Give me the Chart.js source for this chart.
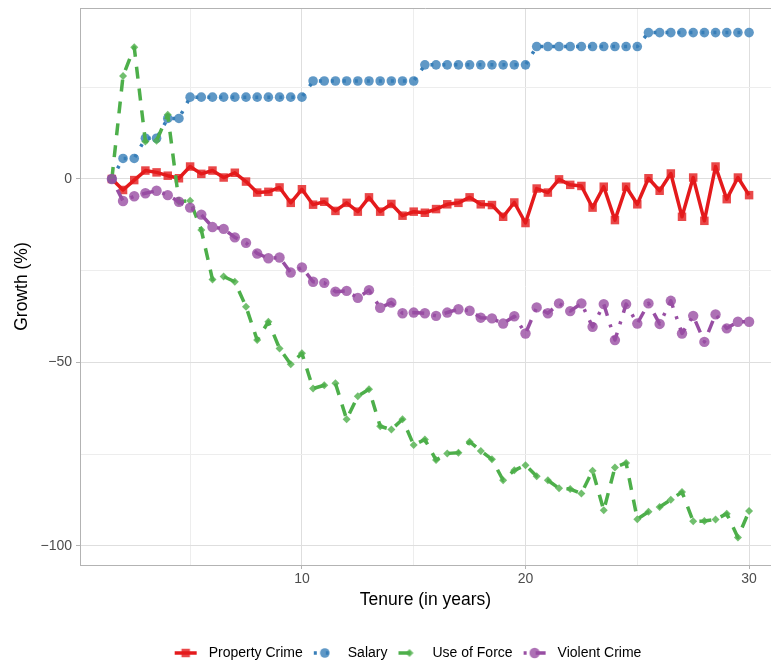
<!DOCTYPE html>
<html>
<head>
<meta charset="utf-8">
<title>Growth by tenure</title>
<script src="https://cdn.jsdelivr.net/npm/chart.js@4.4.1/dist/chart.umd.min.js"></script>
<style>
  html, body { margin: 0; padding: 0; background: #ffffff; }
  #wrap { width: 771px; height: 664px; }
</style>
</head>
<body>
<div id="wrap"><canvas id="tenureChart" width="771" height="664"></canvas></div>
<script>
// Tenure (years) on the x axis
const tenure = [1.5, 2, 2.5, 3, 3.5, 4, 4.5, 5, 5.5, 6, 6.5, 7, 7.5, 8, 8.5, 9, 9.5, 10,
  10.5, 11, 11.5, 12, 12.5, 13, 13.5, 14, 14.5, 15, 15.5, 16, 16.5, 17, 17.5, 18, 18.5, 19, 19.5, 20,
  20.5, 21, 21.5, 22, 22.5, 23, 23.5, 24, 24.5, 25, 25.5, 26, 26.5, 27, 27.5, 28, 28.5, 29, 29.5, 30];

// Growth (%) per series
const propertyCrime = [0, -3.0, -0.3, 2.3, 1.8, 0.9, 0.2, 3.4, 1.4, 2.3, 0.4, 1.7, -0.7, -3.7, -3.5, -2.3, -6.5, -2.8,
  -7.0, -6.2, -8.7, -6.5, -8.9, -5.0, -8.9, -6.8, -10.0, -8.9, -9.2, -8.2, -6.9, -6.5, -5.0, -6.9, -7.1, -10.3, -6.4, -12.0,
  -2.6, -3.7, -0.1, -1.6, -1.9, -7.8, -2.1, -11.2, -2.1, -6.9, 0.2, -3.2, 1.5, -10.3, 0.4, -11.4, 3.4, -5.5, 0.4, -4.4];
const salary = [0, 5.6, 5.6, 11.1, 11.1, 16.5, 16.5, 22.3, 22.3, 22.3, 22.3, 22.3, 22.3, 22.3, 22.3, 22.3, 22.3, 22.3,
  26.7, 26.7, 26.7, 26.7, 26.7, 26.7, 26.7, 26.7, 26.7, 26.7, 31.1, 31.1, 31.1, 31.1, 31.1, 31.1, 31.1, 31.1, 31.1, 31.1,
  36.1, 36.1, 36.1, 36.1, 36.1, 36.1, 36.1, 36.1, 36.1, 36.1, 39.9, 39.9, 39.9, 39.9, 39.9, 39.9, 39.9, 39.9, 39.9, 39.9];
const useOfForce = [0, 28.1, 35.9, 10.2, 10.4, 17.5, -6.2, -5.9, -13.9, -27.4, -26.6, -28.0, -34.8, -43.9, -38.9, -46.2, -50.5, -47.5,
  -57.1, -56.2, -55.7, -65.5, -59.2, -57.3, -67.4, -68.3, -65.5, -72.5, -71.0, -76.6, -74.8, -74.6, -71.6, -74.1, -76.4, -82.1, -79.4, -78.0,
  -81.0, -82.1, -84.3, -84.5, -85.7, -79.5, -90.3, -78.6, -77.4, -92.7, -90.7, -89.4, -87.4, -85.3, -93.3, -93.2, -92.8, -91.2, -97.7, -90.5];
const violentCrime = [0, -6.0, -4.7, -3.9, -3.2, -4.4, -6.2, -7.8, -9.7, -13.1, -13.6, -15.9, -17.4, -20.3, -21.6, -21.4, -25.5, -24.1,
  -28.0, -28.3, -30.7, -30.5, -32.4, -30.3, -35.1, -33.7, -36.6, -36.4, -36.6, -37.3, -36.4, -35.5, -35.9, -37.8, -38.0, -39.4, -37.4, -42.1,
  -35.0, -36.6, -33.9, -36.0, -33.9, -40.3, -34.1, -43.9, -34.1, -39.4, -33.9, -39.5, -33.2, -42.1, -37.3, -44.4, -36.9, -40.7, -38.9, -38.9];

// Axis breaks (major ones get a label, the others are minor grid lines)
const xBreaks = [5, 10, 15, 20, 25, 30];
const xLabels = [10, 20, 30];
const yBreaks = [-100, -75, -50, -25, 0, 25];
const yLabels = [-100, -50, 0];

const FONT = "'Liberation Sans', Arial, Helvetica, sans-serif";

document.addEventListener('DOMContentLoaded', function() {
    drawTenureChart();
});

/**
 * Builds {x, y} points for one series
 */
function toPoints(values) {
    return tenure.map((t, i) => ({ x: t, y: values[i] }));
}

/**
 * Small canvas used as legend key: line (with dash) + marker
 */
function makeKey(ds) {
    const c = document.createElement('canvas');
    c.width = 24;
    c.height = 14;
    const g = c.getContext('2d');
    g.strokeStyle = ds.borderColor;
    g.lineWidth = ds.borderWidth;
    g.setLineDash(ds.borderDash || []);
    g.beginPath();
    g.moveTo(1, 7);
    g.lineTo(23, 7);
    g.stroke();
    g.setLineDash([]);
    g.fillStyle = ds.pointBackgroundColor;
    const r = ds.pointRadius;
    g.beginPath();
    if (ds.pointStyle === 'rect') {
        const s = r * Math.SQRT1_2;
        g.rect(12 - s, 7 - s, 2 * s, 2 * s);
    } else if (ds.pointStyle === 'rectRot') {
        g.moveTo(12, 7 - r); g.lineTo(12 + r, 7); g.lineTo(12, 7 + r); g.lineTo(12 - r, 7); g.closePath();
    } else {
        g.arc(12, 7, r, 0, Math.PI * 2);
    }
    g.fill();
    return c;
}

/**
 * Scale sizes are fixed by hand so the panel lands where ggplot put it
 */
function fixScale(size) {
    return function(scale) {
        if (scale.isHorizontal()) scale.height = size;
        else scale.width = size;
        scale.paddingTop = 0;
        scale.paddingBottom = 0;
        scale.paddingLeft = 0;
        scale.paddingRight = 0;
    };
}

function drawTenureChart() {
    const canvas = document.getElementById('tenureChart');
    if (!canvas) return;

    const datasets = [
        {
            label: 'Property Crime', data: toPoints(propertyCrime), order: 4,
            borderColor: '#E41A1C', borderWidth: 3.5, borderDash: [],
            pointStyle: 'rect', pointRadius: 6, pointBackgroundColor: 'rgba(228,26,28,0.8)'
        },
        {
            label: 'Salary', data: toPoints(salary), order: 3,
            borderColor: '#377EB8', borderWidth: 3.5, borderDash: [3, 9],
            pointStyle: 'circle', pointRadius: 4.8, pointBackgroundColor: 'rgba(55,126,184,0.8)'
        },
        {
            label: 'Use of Force', data: toPoints(useOfForce), order: 2,
            borderColor: '#4DAF4A', borderWidth: 3.5, borderDash: [12, 10],
            pointStyle: 'rectRot', pointRadius: 4, pointBackgroundColor: 'rgba(77,175,74,0.8)'
        },
        {
            label: 'Violent Crime', data: toPoints(violentCrime), order: 1,
            borderColor: '#984EA3', borderWidth: 3.5, borderDash: [3, 9, 12, 9],
            pointStyle: 'circle', pointRadius: 5.2, pointBackgroundColor: 'rgba(152,78,163,0.8)'
        }
    ];
    datasets.forEach(ds => {
        ds.pointBorderWidth = 0;
        ds.pointHoverRadius = ds.pointRadius;
        ds.tension = 0;
        ds.fill = false;
        ds.borderCapStyle = 'butt';
        ds.borderJoinStyle = 'round';
    });

    // Legend nudge + top border of the panel
    const panelFrame = {
        id: 'panelFrame',
        afterLayout(chart) {
            const lg = chart.legend;
            lg.left += 15; lg.right += 15;
            lg.top += 6; lg.bottom += 6;
        },
        afterDatasetsDraw(chart) {
            const { ctx, chartArea } = chart;
            ctx.save();
            ctx.strokeStyle = '#B3B3B3';
            ctx.lineWidth = 1;
            ctx.beginPath();
            ctx.moveTo(chartArea.left, Math.round(chartArea.top) + 0.5);
            ctx.lineTo(chartArea.right, Math.round(chartArea.top) + 0.5);
            ctx.stroke();
            ctx.restore();
        }
    };

    new Chart(canvas, {
        type: 'line',
        data: { datasets: datasets },
        plugins: [panelFrame],
        options: {
            responsive: false,
            devicePixelRatio: 1,
            animation: false,
            layout: { autoPadding: false, padding: { top: 8, right: -10, bottom: 0, left: 0 } },
            plugins: {
                tooltip: { enabled: false },
                legend: {
                    position: 'bottom',
                    labels: {
                        usePointStyle: true,
                        pointStyleWidth: 32,
                        padding: 6,
                        color: '#000000',
                        font: { family: FONT, size: 14 },
                        generateLabels: function(chart) {
                            return chart.data.datasets.map((ds, i) => ({
                                text: ds.label,
                                pointStyle: makeKey(ds),
                                fillStyle: ds.borderColor,
                                strokeStyle: ds.borderColor,
                                lineWidth: 0,
                                hidden: false,
                                datasetIndex: i
                            }));
                        }
                    }
                }
            },
            scales: {
                x: {
                    type: 'linear',
                    min: 0.075,
                    max: 30.98,
                    afterFit: fixScale(69),
                    afterBuildTicks: function(scale) {
                        scale.ticks = xBreaks.map(v => ({ value: v }));
                    },
                    ticks: {
                        autoSkip: false,
                        maxRotation: 0,
                        padding: 2,
                        color: '#4D4D4D',
                        font: { family: FONT, size: 14 },
                        callback: v => xLabels.includes(v) ? String(v) : ''
                    },
                    grid: {
                        color: c => (c.tick && xLabels.includes(c.tick.value)) ? '#DEDEDE' : '#EDEDED',
                        tickColor: c => (c.tick && xLabels.includes(c.tick.value)) ? '#B3B3B3' : 'rgba(0,0,0,0)',
                        tickLength: 4,
                        lineWidth: 1
                    },
                    border: { display: true, color: '#B3B3B3', width: 1 },
                    title: {
                        display: true,
                        text: 'Tenure (in years)',
                        color: '#000000',
                        font: { family: FONT, size: 17.5 },
                        padding: { top: 0, bottom: 23.5 }
                    }
                },
                y: {
                    type: 'linear',
                    min: -105.2,
                    max: 46.6,
                    afterFit: fixScale(80),
                    afterBuildTicks: function(scale) {
                        scale.ticks = yBreaks.map(v => ({ value: v }));
                    },
                    ticks: {
                        autoSkip: false,
                        padding: 4,
                        color: '#4D4D4D',
                        font: { family: FONT, size: 14 },
                        callback: v => yLabels.includes(v) ? (v < 0 ? '\u2212' + Math.abs(v) : String(v)) : ''
                    },
                    grid: {
                        color: c => (c.tick && yLabels.includes(c.tick.value)) ? '#DEDEDE' : '#EDEDED',
                        tickColor: c => (c.tick && yLabels.includes(c.tick.value)) ? '#B3B3B3' : 'rgba(0,0,0,0)',
                        tickLength: 4,
                        lineWidth: 1
                    },
                    border: { display: true, color: '#B3B3B3', width: 1 },
                    title: {
                        display: true,
                        text: 'Growth (%)',
                        color: '#000000',
                        font: { family: FONT, size: 17.5 },
                        padding: { top: 11.5, bottom: 0 }
                    }
                }
            }
        }
    });
}
</script>
</body>
</html>
